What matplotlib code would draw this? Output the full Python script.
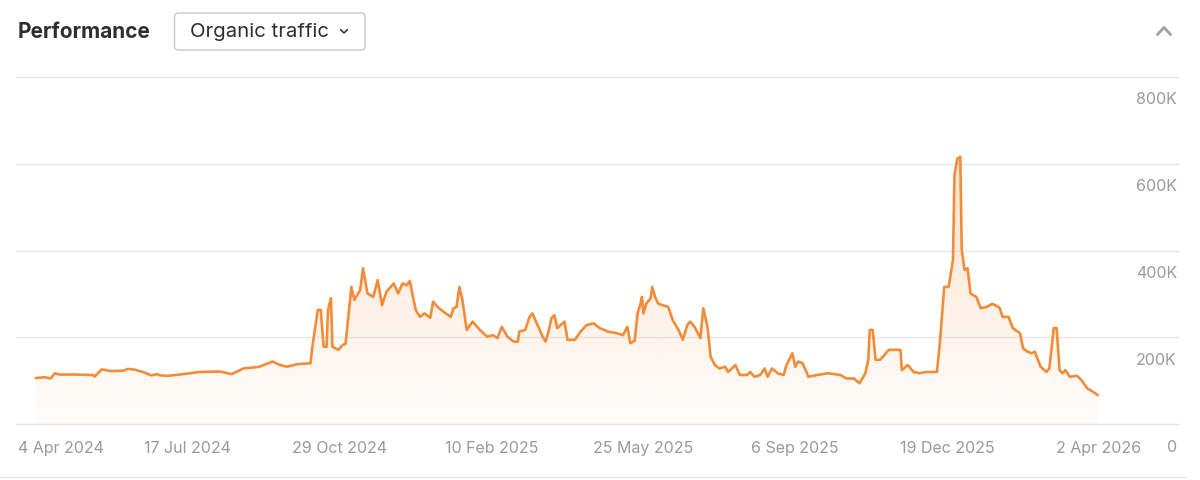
import numpy as np
import pandas as pd
import matplotlib
matplotlib.use("Agg")
import matplotlib.pyplot as plt
from matplotlib.patches import FancyBboxPatch, Polygon
from matplotlib.lines import Line2D
from matplotlib.transforms import ScaledTranslation, blended_transform_factory

plt.rcParams["font.family"] = ["Inter", "DejaVu Sans"]

# ── Data ──────────────────────────────────────────────────────────────────────
START = pd.Timestamp("2024-04-04")

# days since 4 Apr 2024
day_offset = [
    0, 6, 10, 13, 16, 27, 39, 40, 45, 51, 60, 63, 68, 73, 79, 83, 85, 90, 101, 112,
    126, 134, 142, 153, 162, 167, 172, 179, 188, 189, 192, 193, 195, 197, 199, 200,
    202, 203, 207, 210, 212, 214, 216, 218, 222, 224, 227, 231, 234, 237, 240, 245,
    248, 251, 254, 256, 260, 263, 266, 270, 272, 275, 279, 284, 286, 288, 290, 292,
    295, 299, 304, 309, 313, 316, 319, 323, 327, 330, 331, 335, 338, 340, 343, 347,
    349, 351, 353, 355, 357, 362, 364, 369, 373, 377, 382, 386, 392, 398, 402, 405,
    407, 410, 412, 414, 415, 416, 418, 421, 422, 424, 426, 429, 433, 436, 440, 443,
    446, 448, 451, 455, 457, 460, 462, 465, 468, 472, 474, 479, 482, 487, 489, 492,
    496, 499, 501, 504, 508, 512, 514, 518, 520, 522, 525, 529, 535, 542, 551, 555,
    560, 564, 568, 570, 571, 573, 575, 578, 580, 584, 592, 593, 597, 601, 605, 610,
    617, 619, 622, 625, 628, 629, 631, 633, 634, 636, 638, 640, 644, 647, 651, 655,
    659, 660, 662, 666, 669, 674, 676, 679, 682, 684, 688, 692, 694, 697, 699, 701,
    703, 705, 708, 713, 716, 720, 724, 727,
]

# organic traffic, thousands
traffic_k = [
    106, 108, 105, 117, 114, 114, 113, 109, 126, 122, 123, 127, 125, 120, 112, 115, 112, 111, 115, 120,
    121, 115, 128, 132, 144, 136, 132, 138, 140, 171, 240, 263, 263, 178, 178, 263,
    290, 178, 171, 182, 185, 250, 316, 286, 309, 359, 301, 293, 332, 274, 305, 324,
    301, 324, 320, 330, 263, 247, 255, 245, 282, 270, 259, 247, 267, 270, 316, 286,
    217, 236, 217, 201, 205, 198, 224, 201, 190, 190, 213, 217, 247, 255, 232, 201,
    190, 213, 244, 251, 221, 236, 194, 194, 213, 228, 232, 221, 213, 209, 205, 224,
    186, 192, 255, 278, 293, 255, 278, 290, 316, 293, 278, 274, 270, 240, 217, 194,
    228, 236, 224, 198, 267, 221, 155, 136, 128, 132, 120, 136, 113, 113, 120, 109,
    113, 128, 109, 128, 117, 113, 136, 163, 132, 144, 140, 109, 113, 117, 113, 105,
    105, 94, 117, 148, 217, 217, 148, 148, 155, 171, 171, 124, 136, 120, 117, 120,
    120, 186, 316, 316, 378, 574, 612, 616, 401, 355, 359, 301, 293, 267, 270, 277,
    270, 267, 247, 247, 221, 209, 174, 167, 163, 167, 132, 120, 128, 221, 221, 124,
    117, 124, 109, 111, 101, 82, 74, 67,
]

tick_dates = ["2024-04-04", "2024-07-17", "2024-10-29", "2025-02-10",
              "2025-05-25", "2025-09-06", "2025-12-19", "2026-04-02"]
tick_labels = ["4 Apr 2024", "17 Jul 2024", "29 Oct 2024", "10 Feb 2025",
               "25 May 2025", "6 Sep 2025", "19 Dec 2025", "2 Apr 2026"]

y_ticks = [0, 200, 400, 600, 800]
y_labels = ["0", "200K", "400K", "600K", "800K"]

LINE_COLOR = "#F28C38"
GRID_COLOR = "#E6E6E6"
LABEL_COLOR = "#9A9A9A"
TEXT_DARK = "#2E2E2E"

# ── Figure ────────────────────────────────────────────────────────────────────
W, H = 1200, 480
fig = plt.figure(figsize=(W / 100, H / 100), dpi=100)
fig.patch.set_facecolor("white")

# plot area: gridlines run from x=16 to x=1178, 0 at y=424, 800K at y=77
ax = fig.add_axes([16 / W, 1 - 424 / H, (1178 - 16) / W, (424 - 77) / H])
ax.set_facecolor("none")

x = np.array(day_offset, dtype=float)
y = np.array(traffic_k, dtype=float)

# data day 0 sits at px 36, day 728 at px 1099
px_per_day = (1099 - 36) / 728.0
x_lo = (16 - 36) / px_per_day
x_hi = (1178 - 36) / px_per_day

# gradient fill under the line
poly = Polygon(np.column_stack([np.r_[x[0], x, x[-1]], np.r_[0, y, 0]]),
               closed=True, facecolor="none", edgecolor="none")
ax.add_patch(poly)
rgba = np.zeros((256, 1, 4))
rgba[..., 0], rgba[..., 1], rgba[..., 2] = 242 / 255, 140 / 255, 56 / 255
rgba[:, 0, 3] = np.linspace(0.02, 0.32, 256)
im = ax.imshow(rgba, extent=[x[0], x[-1], 0, 800], origin="lower",
               aspect="auto", interpolation="bilinear", zorder=1)
im.set_clip_path(poly)

ax.plot(x, y, color=LINE_COLOR, lw=1.9, solid_joinstyle="round", zorder=3)

for v in y_ticks:
    ax.axhline(v, color=GRID_COLOR, lw=1.0, zorder=0, clip_on=False)

ax.set_xlim(x_lo, x_hi)
ax.set_ylim(0, 800)

for s in ax.spines.values():
    s.set_visible(False)
ax.set_yticks([])

tick_pos = [(pd.Timestamp(d) - START).days for d in tick_dates]
ax.set_xticks(tick_pos)
ax.set_xticklabels(tick_labels, fontsize=11.5, color=LABEL_COLOR)
ax.tick_params(axis="x", length=0, pad=12)
first = ax.get_xticklabels()[0]
first.set_horizontalalignment("left")
first.set_transform(first.get_transform() + ScaledTranslation(-0.18, 0, fig.dpi_scale_trans))

# y labels sit under their gridline on the right
ytrans = blended_transform_factory(ax.transAxes, ax.transData)
for v, lab in zip(y_ticks, y_labels):
    ax.text(0.999, v, lab, transform=ytrans + ScaledTranslation(0, -0.23, fig.dpi_scale_trans),
            ha="right", va="center", fontsize=11.5, color=LABEL_COLOR)

# ── Header ────────────────────────────────────────────────────────────────────
fig.text(18 / W, 1 - 32 / H, "Performance", fontsize=15, fontweight="bold",
         color=TEXT_DARK, ha="left", va="center")

box = FancyBboxPatch((1.745, 4.30), 1.905, 0.37, boxstyle="round,pad=0,rounding_size=0.04",
                     transform=fig.dpi_scale_trans, facecolor="white",
                     edgecolor="#C9C9C9", lw=1.0)
fig.add_artist(box)
fig.text(190 / W, 1 - 32 / H, "Organic traffic", fontsize=14.6, color=TEXT_DARK,
         ha="left", va="center")
fig.add_artist(Line2D([3.405, 3.44, 3.475], [4.505, 4.47, 4.505], transform=fig.dpi_scale_trans,
                      color=TEXT_DARK, lw=1.1, solid_capstyle="round"))

# collapse chevron
fig.add_artist(Line2D([11.575, 11.64, 11.705], [4.455, 4.525, 4.455], transform=fig.dpi_scale_trans,
                      color="#A0A0A0", lw=2.0, solid_capstyle="round"))

# card bottom border
fig.add_artist(Line2D([0, 1185 / W], [1 - 477 / H, 1 - 477 / H], transform=fig.transFigure,
                      color=GRID_COLOR, lw=1.0))

fig.savefig("out.png", dpi=100)
